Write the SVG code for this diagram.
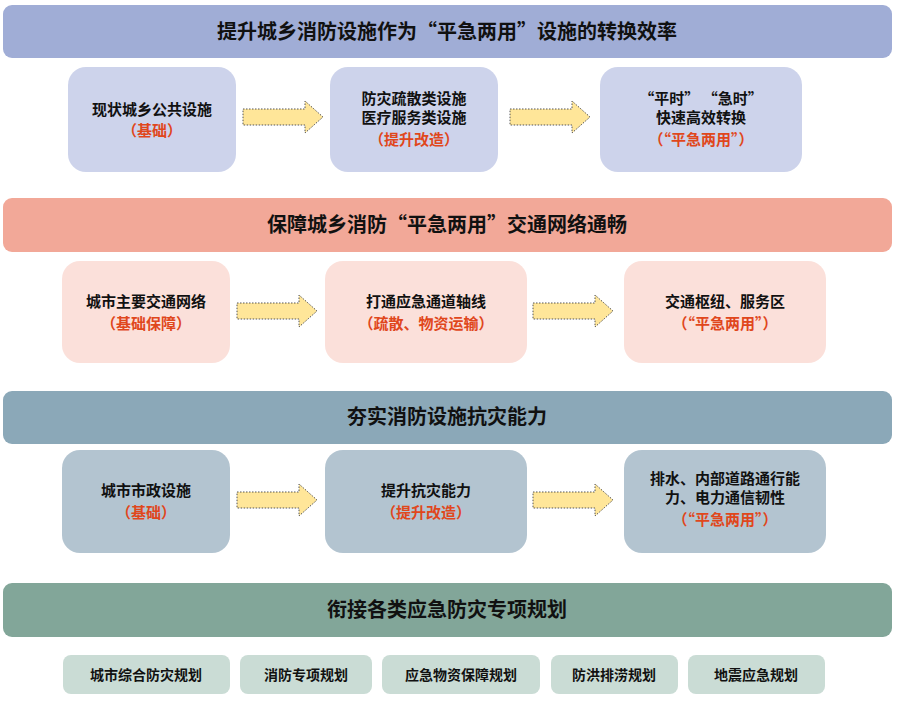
<svg xmlns="http://www.w3.org/2000/svg" width="900" height="701" viewBox="0 0 900 701">
<style>
text{font-family:"Noto Sans CJK SC","Liberation Sans",sans-serif;font-weight:bold;text-anchor:middle}
.t{font-size:20px;fill:#111}
.n{font-size:15px;fill:#111}
.r{font-size:15px;fill:#E0471C}
.s{font-size:14px;fill:#111}
.arr{fill:#FFE699;stroke:#555;stroke-width:1;stroke-dasharray:1.5 1.5}
</style>
<defs>
<path id="ar" class="arr" d="M0,-8 H62 V-16 L80,0 L62,16 V8 H0 Z"/>
</defs>
<rect width="900" height="701" fill="#fff"/>
<g id="band1"><rect x="3" y="5" width="889" height="53" rx="9" fill="#A0ADD6"/><text class="t" x="447" y="39">提升城乡消防设施作为“平急两用”设施的转换效率</text></g>
<g id="n11"><rect x="68" y="67" width="168" height="105" rx="18" fill="#CDD3EB"/><text class="n" x="152" y="115">现状城乡公共设施</text><text class="r" x="152" y="136">（基础）</text></g>
<g id="n12"><rect x="330" y="67" width="168" height="105" rx="18" fill="#CDD3EB"/><text class="n" x="414" y="104">防灾疏散类设施</text><text class="n" x="414" y="123">医疗服务类设施</text><text class="r" x="414" y="145">（提升改造）</text></g>
<g id="n13"><rect x="600" y="67" width="202" height="105" rx="18" fill="#CDD3EB"/><text class="n" x="701" y="104">“平时”  “急时”</text><text class="n" x="701" y="123">快速高效转换</text><text class="r" x="701" y="145">（“平急两用”）</text></g>
<g id="band2"><rect x="3" y="198" width="889" height="54" rx="9" fill="#F2A898"/><text class="t" x="447" y="232">保障城乡消防“平急两用”交通网络通畅</text></g>
<g id="n21"><rect x="62" y="261" width="168" height="102" rx="18" fill="#FBE0DA"/><text class="n" x="146" y="307">城市主要交通网络</text><text class="r" x="146" y="329">（基础保障）</text></g>
<g id="n22"><rect x="325" y="261" width="202" height="102" rx="18" fill="#FBE0DA"/><text class="n" x="426" y="307">打通应急通道轴线</text><text class="r" x="426" y="329">（疏散、物资运输）</text></g>
<g id="n23"><rect x="624" y="261" width="202" height="102" rx="18" fill="#FBE0DA"/><text class="n" x="725" y="307">交通枢纽、服务区</text><text class="r" x="725" y="329">（“平急两用”）</text></g>
<g id="band3"><rect x="3" y="391" width="889" height="53" rx="9" fill="#8BA8B8"/><text class="t" x="447" y="424">夯实消防设施抗灾能力</text></g>
<g id="n31"><rect x="62" y="450" width="168" height="103" rx="18" fill="#B3C4D0"/><text class="n" x="146" y="496">城市市政设施</text><text class="r" x="146" y="518">（基础）</text></g>
<g id="n32"><rect x="325" y="450" width="202" height="103" rx="18" fill="#B3C4D0"/><text class="n" x="426" y="496">提升抗灾能力</text><text class="r" x="426" y="518">（提升改造）</text></g>
<g id="n33"><rect x="624" y="450" width="202" height="103" rx="18" fill="#B3C4D0"/><text class="n" x="725" y="484">排水、内部道路通行能</text><text class="n" x="725" y="503">力、电力通信韧性</text><text class="r" x="725" y="525">（“平急两用”）</text></g>
<g id="band4"><rect x="3" y="583" width="889" height="54" rx="9" fill="#82A699"/><text class="t" x="447" y="617">衔接各类应急防灾专项规划</text></g>
<g id="b1"><rect x="63" y="655" width="167" height="39" rx="8" fill="#CADCD5"/><text class="s" x="146" y="680">城市综合防灾规划</text></g>
<g id="b2"><rect x="240" y="655" width="132" height="39" rx="8" fill="#CADCD5"/><text class="s" x="306" y="680">消防专项规划</text></g>
<g id="b3"><rect x="382" y="655" width="158" height="39" rx="8" fill="#CADCD5"/><text class="s" x="461" y="680">应急物资保障规划</text></g>
<g id="b4"><rect x="551" y="655" width="127" height="39" rx="8" fill="#CADCD5"/><text class="s" x="614" y="680">防洪排涝规划</text></g>
<g id="b5"><rect x="688" y="655" width="137" height="39" rx="8" fill="#CADCD5"/><text class="s" x="756" y="680">地震应急规划</text></g>
<g id="connectors">
<use href="#ar" transform="translate(243,117)"/>
<use href="#ar" transform="translate(510,117)"/>
<use href="#ar" transform="translate(237,311)"/>
<use href="#ar" transform="translate(533,311)"/>
<use href="#ar" transform="translate(237,500)"/>
<use href="#ar" transform="translate(533,500)"/>
</g>
</svg>
